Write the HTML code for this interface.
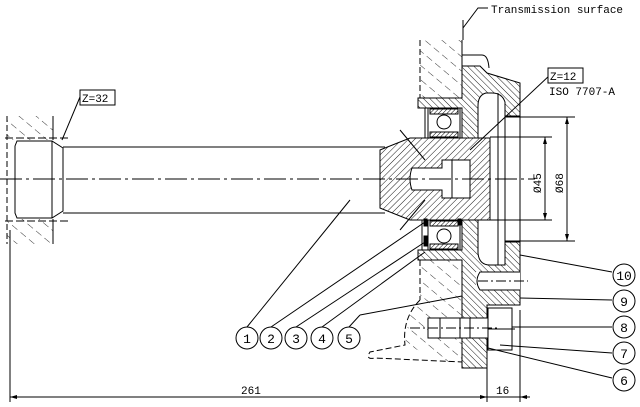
<!DOCTYPE html>
<html><head><meta charset="utf-8"><style>
html,body{margin:0;padding:0;background:#fff;}
svg{display:block;}
text{font-family:"Liberation Mono","DejaVu Sans Mono",monospace;fill:#000;}
</style></head><body>
<svg width="640" height="407" viewBox="0 0 640 407" xmlns="http://www.w3.org/2000/svg">
<defs>
<pattern id="h1" width="4.5" height="4.5" patternUnits="userSpaceOnUse" patternTransform="rotate(45)"><line x1="0" y1="0" x2="0" y2="5" stroke="#000" stroke-width="0.9"/></pattern>
<pattern id="h2" width="4.5" height="4.5" patternUnits="userSpaceOnUse" patternTransform="rotate(-45)"><line x1="0" y1="0" x2="0" y2="5" stroke="#000" stroke-width="0.9"/></pattern>
<pattern id="hd" width="11" height="11" patternUnits="userSpaceOnUse" patternTransform="rotate(-50)"><line x1="0" y1="0" x2="0" y2="7" stroke="#000" stroke-width="0.8"/></pattern>
<pattern id="hs" width="3" height="3" patternUnits="userSpaceOnUse" patternTransform="rotate(45)"><line x1="0" y1="0" x2="0" y2="3" stroke="#000" stroke-width="1"/></pattern>
</defs>
<g stroke="#000" fill="none" stroke-width="1">
<!-- left housing -->
<rect x="7" y="116" width="46" height="24" fill="url(#hd)" stroke="none"/>
<rect x="7" y="219" width="46" height="25" fill="url(#hd)" stroke="none"/>
<line x1="7" y1="116" x2="7" y2="244" stroke-dasharray="6,3"/>
<line x1="53" y1="116" x2="53" y2="140"/><line x1="53" y1="219" x2="53" y2="244"/>
<line x1="5" y1="138" x2="68" y2="138" stroke-dasharray="8,3"/>
<line x1="5" y1="221" x2="68" y2="221" stroke-dasharray="8,3"/>
<!-- shaft spline end -->
<path d="M15 146 L17 141 L52 141 L63 148 L63 211 L52 218 L17 218 L15 213 Z" fill="#fff"/>
<line x1="52" y1="141" x2="52" y2="218"/>
<line x1="63" y1="147" x2="385" y2="147"/>
<line x1="63" y1="213" x2="385" y2="213"/>
<!-- upper housing dashed -->
<path d="M420 40 L462 40 L462 98 L420 98 Z" fill="url(#hd)" stroke="none"/>
<line x1="420" y1="40" x2="420" y2="98" stroke-dasharray="6,3"/>
<line x1="462" y1="40" x2="462" y2="66"/>
<path d="M462 55 L482 55 Q488 55 489 68"/>
<!-- flange body upper -->
<path d="M462 66 L480 66 L487 73 L520 83 L520 116 L505 116 L505 102 Q502 93 492 93 L486 93 Q478 95 478 106 L478 138 L462 138 L462 108 L418 108 L418 98 L462 98 Z" fill="url(#h2)"/>
<!-- flange body lower -->
<path d="M418 250 L462 250 L462 220 L478 220 L478 253 Q479 265 490 265 L505 265 L505 242 L520 242 L520 305 L487 305 L487 368 L462 368 L462 260 L418 260 Z" fill="url(#h2)"/>
<rect x="476" y="272" width="44" height="18" fill="#fff" stroke="none"/>
<path d="M520 272 L480 272 Q474 281 480 290 L520 290"/>
<line x1="478" y1="281" x2="528" y2="281" stroke-dasharray="10,3,2,3"/>
<!-- right vertical lines -->
<line x1="505" y1="116" x2="505" y2="242"/>
<line x1="520" y1="116" x2="520" y2="242"/>
<line x1="498" y1="93" x2="498" y2="265"/>
<!-- bearings -->
<rect x="428" y="108" width="32" height="30" fill="#fff"/>
<rect x="430" y="109" width="28" height="5" fill="url(#hs)"/>
<rect x="430" y="132" width="28" height="5" fill="url(#hs)"/>
<circle cx="444" cy="122" r="7"/>
<line x1="425" y1="108" x2="425" y2="138"/>
<rect x="428" y="220" width="32" height="30" fill="#fff"/>
<rect x="430" y="221" width="28" height="5" fill="url(#hs)"/>
<rect x="430" y="244" width="28" height="5" fill="url(#hs)"/>
<circle cx="444" cy="236" r="7"/>
<line x1="422" y1="220" x2="422" y2="250"/>
<rect x="424" y="219" width="3" height="7" fill="#000"/>
<rect x="424" y="236" width="3" height="10" fill="#000"/>
<rect x="458" y="219" width="3" height="6" fill="#000"/>
<!-- hub -->
<path d="M380 150 L410 138 L490 138 L490 220 L410 220 L380 208 Z" fill="url(#h1)"/>
<path d="M412 168 L442 168 L442 160 L470 160 L470 198 L442 198 L442 190 L412 190 Q408 179 412 168 Z" fill="#fff"/>
<line x1="452" y1="160" x2="452" y2="198"/>
<line x1="400" y1="130" x2="425" y2="160"/><line x1="400" y1="230" x2="425" y2="200"/>
<!-- centre line -->
<line x1="0" y1="179" x2="535" y2="179" stroke-dasharray="22,4,3,4"/>
<!-- lower housing dashed -->
<path d="M420 260 L462 260 L462 362 L440 362 L418 350 L405 345 L410 310 L420 300 Z" fill="url(#hd)" stroke="none"/>
<line x1="420" y1="260" x2="420" y2="300" stroke-dasharray="6,3"/>
<path d="M420 300 Q402 318 405 345 L370 352 Q365 360 375 358 L462 362" stroke-dasharray="6,3"/>
<!-- bolt -->
<rect x="428" y="318" width="60" height="20" fill="#fff"/>
<line x1="440" y1="318" x2="440" y2="338"/>
<rect x="460" y="318" width="10" height="20"/>
<rect x="488" y="308" width="24" height="42" fill="#fff"/>
<line x1="488" y1="329" x2="515" y2="329"/>
<line x1="410" y1="328" x2="500" y2="328" stroke-dasharray="10,3,2,3"/>
<!-- dimensions -->
<line x1="505" y1="117" x2="575" y2="117"/>
<line x1="490" y1="137" x2="552" y2="137"/>
<line x1="490" y1="220" x2="552" y2="220"/>
<line x1="505" y1="241" x2="575" y2="241"/>
<line x1="545" y1="137" x2="545" y2="220"/>
<line x1="567" y1="117" x2="567" y2="241"/>
<line x1="10" y1="230" x2="10" y2="402"/>
<line x1="487" y1="350" x2="487" y2="402"/>
<line x1="520" y1="310" x2="520" y2="402"/>
<line x1="10" y1="397" x2="530" y2="397"/>
<!-- leaders -->
<line x1="62" y1="140" x2="80" y2="97"/>
<line x1="550" y1="75" x2="470" y2="150"/>
<path d="M463 28 L478 8 L488 8"/>
<line x1="463" y1="20" x2="463" y2="40"/>
<line x1="247" y1="327" x2="350" y2="200"/>
<line x1="271" y1="327" x2="425" y2="222"/>
<line x1="296" y1="327" x2="425" y2="242"/>
<line x1="322" y1="327" x2="425" y2="252"/>
<line x1="349" y1="327" x2="360" y2="315"/><line x1="360" y1="315" x2="462" y2="296"/>
<line x1="612" y1="272" x2="520" y2="255"/>
<line x1="612" y1="300" x2="520" y2="298"/>
<line x1="612" y1="327" x2="512" y2="327"/>
<line x1="612" y1="353" x2="500" y2="345"/>
<line x1="612" y1="378" x2="488" y2="348"/>
<!-- balloons -->
<g fill="#fff">
<circle cx="247" cy="338" r="11"/><circle cx="271" cy="338" r="11"/><circle cx="296" cy="338" r="11"/><circle cx="322" cy="338" r="11"/><circle cx="349" cy="338" r="11"/>
<circle cx="624" cy="275" r="11"/><circle cx="624" cy="301" r="11"/><circle cx="624" cy="327" r="11"/><circle cx="624" cy="353" r="11"/><circle cx="624" cy="380" r="11"/>
</g>
<rect x="80" y="90" width="35" height="15" fill="#fff"/>
<rect x="548" y="68" width="35" height="15" fill="#fff"/>
</g>
<polygon points="10,397 17,395 17,399"/>
<polygon points="487,397 480,395 480,399"/>
<polygon points="520,397 527,395 527,399"/>
<polygon points="545,137 543,144 547,144"/><polygon points="545,220 543,213 547,213"/>
<polygon points="567,117 565,124 569,124"/><polygon points="567,241 565,234 569,234"/>
<g font-size="11">
<text x="491" y="13">Transmission surface</text>
<text x="82" y="102">Z=32</text>
<text x="550" y="80">Z=12</text>
<text x="549" y="95">ISO 7707-A</text>
<text x="241" y="394">261</text>
<text x="496" y="394">16</text>
<text x="541" y="193" transform="rotate(-90 541 193)">Ø45</text>
<text x="563" y="193" transform="rotate(-90 563 193)">Ø68</text>
</g>
<g font-size="13" font-family="Liberation Sans,sans-serif" text-anchor="middle">
<text x="247" y="343">1</text><text x="271" y="343">2</text><text x="296" y="343">3</text><text x="322" y="343">4</text><text x="349" y="343">5</text>
<text x="624" y="280">10</text><text x="624" y="306">9</text><text x="624" y="332">8</text><text x="624" y="358">7</text><text x="624" y="385">6</text>
</g>
</svg>
</body></html>
